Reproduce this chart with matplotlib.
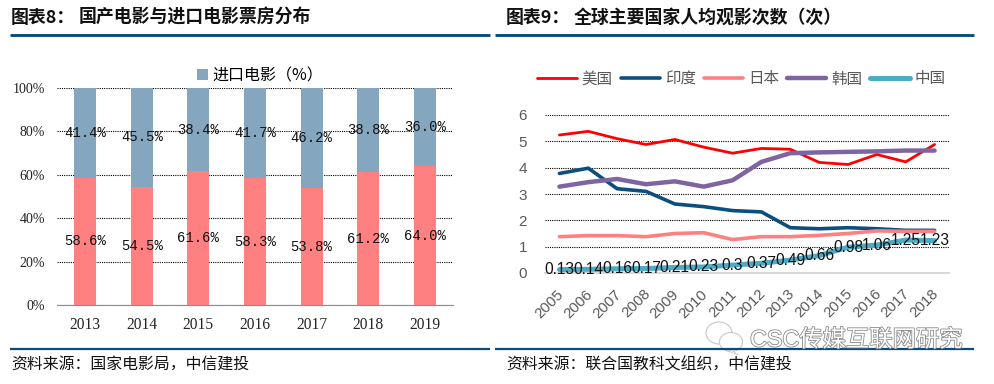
import matplotlib
matplotlib.use('Agg')
import matplotlib.pyplot as plt
import matplotlib.patheffects as pe
from matplotlib.patches import Ellipse, Polygon
from matplotlib.transforms import ScaledTranslation

CJK = 'Noto Sans CJK SC'
plt.rcParams['font.family'] = [CJK, 'DejaVu Sans']

bar_years = ['2013', '2014', '2015', '2016', '2017', '2018', '2019']
domestic = [58.6, 54.5, 61.6, 58.3, 53.8, 61.2, 64.0]
imported = [41.4, 45.5, 38.4, 41.7, 46.2, 38.8, 36.0]

line_years = ['2005', '2006', '2007', '2008', '2009', '2010', '2011',
              '2012', '2013', '2014', '2015', '2016', '2017', '2018']
usa = [5.24, 5.38, 5.10, 4.88, 5.07, 4.78, 4.55, 4.73, 4.70, 4.20, 4.12, 4.50, 4.22, 4.88]
india = [3.78, 3.98, 3.20, 3.10, 2.62, 2.52, 2.37, 2.32, 1.72, 1.68, 1.72, 1.68, 1.62, 1.62]
japan = [1.38, 1.42, 1.42, 1.38, 1.50, 1.53, 1.27, 1.38, 1.38, 1.43, 1.50, 1.60, 1.58, 1.58]
korea = [3.28, 3.45, 3.57, 3.37, 3.48, 3.28, 3.52, 4.22, 4.55, 4.58, 4.60, 4.62, 4.65, 4.65]
china = [0.13, 0.14, 0.16, 0.17, 0.21, 0.23, 0.3, 0.37, 0.49, 0.66, 0.98, 1.06, 1.25, 1.23]

W, H = 994, 384
NAVY = '#0A4C80'
PINK = '#FF8080'
STEEL = '#85A6BF'


def px_axes(fig, left, top, right, bottom):
    return fig.add_axes([left / W, 1 - bottom / H, (right - left) / W, (bottom - top) / H])


fig = plt.figure(figsize=(W / 100, H / 100), dpi=100)

# page furniture, in pixel coordinates
page = fig.add_axes([0, 0, 1, 1])
page.set_xlim(0, W)
page.set_ylim(H, 0)
page.axis('off')
for x0, x1 in [(10, 490), (495, 974)]:
    page.plot([x0, x1], [34.5, 34.5], color=NAVY, lw=2.1, solid_capstyle='butt')
    page.plot([x0, x1], [348.5, 348.5], color=NAVY, lw=1.6, solid_capstyle='butt')
page.text(11, 18, '图表8：', fontsize=12.9, fontweight='bold', va='center', color='#111111')
page.text(79, 18, '国产电影与进口电影票房分布', fontsize=12.9, fontweight='bold', va='center', color='#111111')
page.text(506, 18, '图表9：', fontsize=12.9, fontweight='bold', va='center', color='#111111')
page.text(574, 18, '全球主要国家人均观影次数（次）', fontsize=12.9, fontweight='bold', va='center', color='#111111')
page.text(11, 365, '资料来源：国家电影局，中信建投', fontsize=11.4, va='center', color='#111111')
page.text(506, 365, '资料来源：联合国教科文组织，中信建投', fontsize=11.4, va='center', color='#111111')

# left chart
ax = px_axes(fig, 57, 88, 453, 305)
xs = range(len(bar_years))
ax.bar(xs, domestic, width=0.39, color=PINK, zorder=3)
bars2 = ax.bar(xs, imported, width=0.39, bottom=domestic, color=STEEL, zorder=3, label='进口电影（%）')
for i in xs:
    ax.text(i, domestic[i] / 2, '%.1f%%' % domestic[i], ha='center', va='center', zorder=5,
            fontsize=10, family='Liberation Mono', color='#111111')
    ax.text(i, domestic[i] + imported[i] / 2, '%.1f%%' % imported[i], ha='center', va='center', zorder=5,
            fontsize=10, family='Liberation Mono', color='#111111')
ax.set_xlim(-0.5, 6.5)
ax.set_ylim(0, 100)
ax.set_yticks([0, 20, 40, 60, 80, 100])
ax.set_yticklabels(['0%', '20%', '40%', '60%', '80%', '100%'], family='Liberation Serif', fontsize=10, color='#222222')
ax.set_xticks(list(xs))
ax.set_xticklabels(bar_years, family='Liberation Serif', fontsize=11.2, color='#222222')
ax.tick_params(length=0)
ax.tick_params(axis='y', pad=8.5)
ax.tick_params(axis='x', pad=8.5)
ax.grid(axis='y', color='black', linestyle=(0, (1, 1)), lw=0.8, zorder=1)
ax.set_axisbelow(True)
for s in ['top', 'left', 'right']:
    ax.spines[s].set_visible(False)
ax.spines['bottom'].set_color('#8C8C8C')
ax.spines['bottom'].set_zorder(4)
ax.legend(handles=[bars2], loc='lower center', bbox_to_anchor=(0.513, 0.98), frameon=False,
          handlelength=0.7, handleheight=0.7, handletextpad=0.3, borderpad=0,
          prop={'family': [CJK, 'DejaVu Sans'], 'size': 11.5})

# right chart
ax2 = px_axes(fig, 545, 115, 949, 273)
idx = list(range(len(line_years)))
ax2.plot(idx, usa, color='#FF0000', lw=2.0, label='美国', zorder=3, solid_capstyle='round')
ax2.plot(idx, india, color='#0B4F80', lw=2.6, label='印度', zorder=3, solid_capstyle='round')
ax2.plot(idx, japan, color=PINK, lw=2.6, label='日本', zorder=4, solid_capstyle='round')
ax2.plot(idx, korea, color='#8064A2', lw=3.2, label='韩国', zorder=5, solid_capstyle='round')
ax2.plot(idx, china, color='#4BACC6', lw=3.6, label='中国', zorder=3, solid_capstyle='round')
for i in idx:
    ax2.text(i, china[i], str(china[i]), ha='center', va='center', zorder=6,
             fontsize=11.2, family='Liberation Sans', color='#111111')
ax2.set_xlim(-0.5, 13.5)
ax2.set_ylim(0, 6)
ax2.set_yticks(range(7))
ax2.set_yticklabels([str(v) for v in range(7)], family='Liberation Sans', fontsize=11, color='#595959')
ax2.set_xticks(idx)
ax2.set_xticklabels(line_years, rotation=45, ha='right', rotation_mode='anchor',
                    family='Liberation Sans', fontsize=10.8, color='#595959')
ax2.tick_params(length=0)
ax2.tick_params(axis='y', pad=13)
ax2.tick_params(axis='x', pad=10)
# year labels sit a little left of where the tick would put them
shift = ScaledTranslation(-3 / 100, 0, fig.dpi_scale_trans)
for lab in ax2.get_xticklabels():
    lab.set_transform(lab.get_transform() + shift)
ax2.grid(axis='y', color='black', linestyle=(0, (1, 1)), lw=0.8, zorder=1)
ax2.set_axisbelow(True)
for s in ['top', 'left', 'right']:
    ax2.spines[s].set_visible(False)
ax2.spines['bottom'].set_color('#D9D9D9')
ax2.spines['bottom'].set_linewidth(1.4)
ax2.legend(loc='lower center', bbox_to_anchor=(0.486, 1.125), ncol=5, frameon=False, borderpad=0,
           handlelength=2.55, handletextpad=0.3, columnspacing=0.5, labelcolor='#595959',
           prop={'family': [CJK, 'DejaVu Sans'], 'size': 11.2})

# watermark
page.set_zorder(10)
for cx, cy, w, h in [(719, 333, 26, 22), (731, 342, 23, 19)]:
    page.add_patch(Ellipse((cx, cy), w, h, fc='white', ec='#C8C8C8', lw=0.8))
page.add_patch(Polygon([(723, 349), (733, 351), (738, 355)], closed=True, fc='white', ec='#C8C8C8', lw=0.6))
page.text(750, 340, 'CSC传媒互联网研究', fontsize=16.8, color='white', va='center',
          family=['Liberation Sans', CJK],
          path_effects=[pe.withStroke(linewidth=1.2, foreground='#8A8A8A')])

fig.savefig('out.png', dpi=100)
